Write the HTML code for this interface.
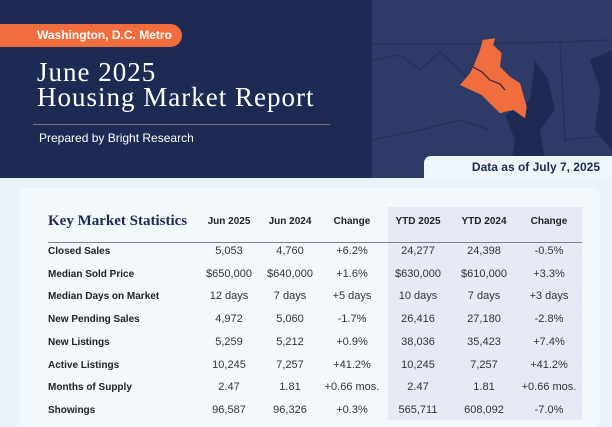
<!DOCTYPE html>
<html><head><meta charset="utf-8"><style>
*{margin:0;padding:0;box-sizing:border-box}
body{width:612px;height:427px;overflow:hidden;background:#eaf3fa;font-family:"Liberation Sans",sans-serif;position:relative}
.hdr{position:absolute;left:0;top:0;width:612px;height:178px;background:#1d2a54}
.map{position:absolute;left:372px;top:0;width:240px;height:178px;background:#2e3b66}
.pill{position:absolute;left:0;top:24px;width:182px;height:23px;background:#f26d3d;border-radius:0 12px 12px 0;color:#fff;font-weight:bold;font-size:12px;line-height:23px;padding-left:37px}
.title{position:absolute;left:37px;top:60px;color:#fff;font-family:"Liberation Serif",serif;font-size:27px;line-height:25px;letter-spacing:1px}
.rule{position:absolute;left:33px;top:124px;width:297px;height:1px;background:#8a6a6a}
.prep{position:absolute;left:39px;top:131px;color:#fff;font-size:12px}
.tab{position:absolute;left:424px;top:156px;width:188px;height:22px;background:#eef5fb;border-radius:7px 0 0 0;color:#1d2a54;font-weight:bold;font-size:12px;line-height:22px;text-align:right;padding-right:12px}
.card{position:absolute;left:20px;top:188px;width:580px;height:239px;background:#f3f8fc;border-radius:6px}
.shade{position:absolute;left:388px;top:207px;width:194px;height:213px;background:#e5eaf4}
.hline{position:absolute;left:48px;top:242px;width:534px;height:1px;background:#7a8290}
.t{position:absolute;font-size:11px;color:#222;white-space:nowrap}
.h{font-weight:bold;font-size:10px;transform:translateX(-50%)}
.v{transform:translateX(-50%);color:#333}
.l{left:48px;font-weight:bold;font-size:10px;color:#222}
.kms{position:absolute;left:48px;top:213px;font-family:"Liberation Serif",serif;font-weight:bold;font-size:15px;color:#1d2a54}
</style></head><body>
<div class="hdr"></div>
<div class="map">
<svg width="240" height="178" viewBox="372 0 240 178">
<g stroke="#243158" stroke-width="1.5" fill="none">
<path d="M372 44 L480 44 L560 42 L612 40"/>
<path d="M372 60 L400 55 L420 70 L440 52 L460 70 L470 80"/>
<path d="M372 140 L420 130 L460 120 L490 130"/>
<path d="M560 42 L565 140 L612 135"/>
</g>
<path d="M505 115 L515 140 L510 170 L530 178 L545 160 L540 130 L555 110 L548 80 L535 60 L530 100 Z" fill="#1d2a54"/>
<path d="M590 60 L600 90 L595 130 L612 150 L612 50 Z" fill="#1d2a54"/>
<polygon points="482.7,40 495,38.3 493.3,45 501.7,53.3 500,66.7 510,76.7 520,83.3 526.7,106.7 525,118.3 513.3,110 505,111.7 500,113.3 496.7,110 488.3,101.7 481.7,95 460,85 470,73.3 473.3,66.7 480,50" fill="#f26d3d"/>
<path d="M473 67 L482 72 L490 80 L500 84 L505 90" stroke="#2a2040" stroke-width="1.2" fill="none"/>
</svg></div>
<div class="pill">Washington, D.C. Metro</div>
<div class="title">June 2025<br>Housing Market Report</div>
<div class="rule"></div>
<div class="prep">Prepared by Bright Research</div>
<div class="tab">Data as of July 7, 2025</div>
<div class="card"></div>
<div class="shade"></div>
<div class="kms">Key Market Statistics</div>
<div class="hline"></div>
<div id="tbl"></div>
<script>
const headers=["Jun 2025","Jun 2024","Change","YTD 2025","YTD 2024","Change"];
const labels=["Closed Sales","Median Sold Price","Median Days on Market","New Pending Sales","New Listings","Active Listings","Months of Supply","Showings"];
const rows=[["5,053","4,760","+6.2%","24,277","24,398","-0.5%"],["$650,000","$640,000","+1.6%","$630,000","$610,000","+3.3%"],["12 days","7 days","+5 days","10 days","7 days","+3 days"],["4,972","5,060","-1.7%","26,416","27,180","-2.8%"],["5,259","5,212","+0.9%","38,036","35,423","+7.4%"],["10,245","7,257","+41.2%","10,245","7,257","+41.2%"],["2.47","1.81","+0.66 mos.","2.47","1.81","+0.66 mos."],["96,587","96,326","+0.3%","565,711","608,092","-7.0%"]];
const cx=[229,290,352,418,484,549];
const tb=document.getElementById('tbl');
headers.forEach((h,i)=>{const d=document.createElement('div');d.className='t h';d.style.left=cx[i]+'px';d.style.top='216px';d.textContent=h;


tb.appendChild(d);});
labels.forEach((lb,r)=>{const y=246+r*22.7;const d=document.createElement('div');d.className='t l';d.style.top=y+'px';d.textContent=lb;


tb.appendChild(d);
rows[r].forEach((v,i)=>{const c=document.createElement('div');c.className='t v';c.style.left=cx[i]+'px';c.style.top=(y-1)+'px';c.textContent=v;


tb.appendChild(c);});});
</script>
</body></html>
